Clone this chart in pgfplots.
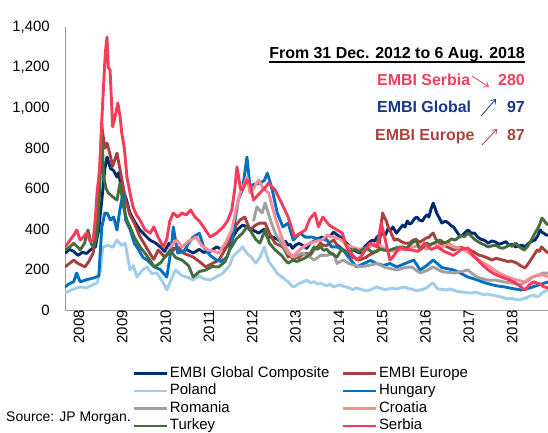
\documentclass[border=0pt]{standalone}
\usepackage{pgfplots}
\pgfplotsset{compat=1.18}
\usepackage{fontspec}
\setmainfont{Liberation Sans}
\usetikzlibrary{arrows.meta}
\definecolor{cNavy}{RGB}{0,42,112}
\definecolor{cBrown}{RGB}{168,64,60}
\definecolor{cPoland}{RGB}{160,205,235}
\definecolor{cHungary}{RGB}{0,112,192}
\definecolor{cRomania}{RGB}{160,160,160}
\definecolor{cCroatia}{RGB}{250,140,150}
\definecolor{cTurkey}{RGB}{70,110,60}
\definecolor{cSerbia}{RGB}{245,60,90}
\definecolor{tNavy}{RGB}{25,55,135}
\definecolor{tBrown}{RGB}{168,68,64}
\definecolor{tSerbia}{RGB}{240,64,92}
\tikzset{ser/.style={line width=2.9bp, line join=round}}
\begin{document}
\begin{tikzpicture}[x=1bp,y=1bp]
\useasboundingbox (0,0) rectangle (548,433);
\clip (0,0) rectangle (548,433);
\begin{axis}[
  at={(65bp,123bp)}, anchor=south west,
  scale only axis, width=483bp, height=283bp,
  xmin=2008, xmax=2019.15, ymin=0, ymax=1400,
  axis x line*=bottom, axis y line*=left,
  axis line style={draw=black!40, line width=0.9bp},
  major tick length=0pt,
  xtick={2008,2009,...,2018},
  xticklabels={2008,2009,2010,2011,2012,2013,2014,2015,2016,2017,2018},
  ytick={0,200,...,1400},
  /pgf/number format/assume math mode=true,
  /pgf/number format/1000 sep={,},
  tick label style={font=\fontsize{15}{17}\selectfont, inner sep=0pt},
  xticklabel style={rotate=90, anchor=east, yshift=-14bp},
  yticklabel style={anchor=east, xshift=-15bp},
  legend columns=2,
  legend cell align=left,
  legend style={at={(0.139,-0.193)}, anchor=north west, draw=none, fill=none,
    inner sep=0pt, column sep=0pt, font=\fontsize{15}{17}\selectfont,
    nodes={inner xsep=2bp, inner ysep=1.5bp, text height=11bp, text depth=3.5bp}},
  legend image code/.code={\draw[#1,line width=2.6bp] (0bp,0bp) -- (33bp,0bp);},
]
\addplot[cNavy,ser] coordinates {(2008.0,280)(2008.1,300)(2008.2,290)(2008.3,270)(2008.4,285)(2008.5,280)(2008.6,300)(2008.7,312)(2008.78,400)(2008.85,544)(2008.92,700)(2008.97,757)(2009.05,700)(2009.12,690)(2009.2,658)(2009.24,680)(2009.3,600)(2009.4,560)(2009.5,480)(2009.6,440)(2009.73,396)(2009.85,370)(2009.96,346)(2010.1,330)(2010.2,312)(2010.3,290)(2010.4,330)(2010.5,300)(2010.6,310)(2010.7,285)(2010.8,300)(2010.96,282)(2011.1,300)(2011.2,285)(2011.35,290)(2011.5,312)(2011.6,300)(2011.74,312)(2011.85,350)(2011.97,396)(2012.1,420)(2012.2,411)(2012.3,400)(2012.47,380)(2012.6,400)(2012.67,360)(2012.8,361)(2012.9,350)(2013.03,330)(2013.09,340)(2013.15,320)(2013.2,325)(2013.25,305)(2013.33,322)(2013.4,330)(2013.5,318)(2013.58,305)(2013.66,330)(2013.75,340)(2013.84,352)(2013.93,361)(2014.0,350)(2014.05,370)(2014.12,365)(2014.2,385)(2014.28,372)(2014.35,361)(2014.43,345)(2014.5,330)(2014.58,315)(2014.65,300)(2014.72,290)(2014.8,282)(2014.88,305)(2014.95,320)(2015.02,335)(2015.1,346)(2015.15,340)(2015.2,361)(2015.28,370)(2015.35,380)(2015.4,372)(2015.45,400)(2015.51,392)(2015.57,411)(2015.61,395)(2015.65,380)(2015.72,400)(2015.8,420)(2015.85,410)(2015.9,440)(2015.95,425)(2016.0,430)(2016.06,450)(2016.12,460)(2016.18,445)(2016.25,440)(2016.3,458)(2016.35,470)(2016.4,460)(2016.45,500)(2016.5,529)(2016.54,505)(2016.58,480)(2016.64,455)(2016.7,430)(2016.78,440)(2016.85,430)(2016.91,418)(2016.97,410)(2017.05,385)(2017.12,363)(2017.2,375)(2017.3,396)(2017.38,380)(2017.45,381)(2017.52,362)(2017.6,350)(2017.68,345)(2017.77,331)(2017.86,342)(2017.95,335)(2018.02,325)(2018.1,331)(2018.18,338)(2018.25,320)(2018.32,325)(2018.4,312)(2018.48,318)(2018.55,320)(2018.62,312)(2018.7,330)(2018.78,340)(2018.85,346)(2018.92,370)(2018.97,396)(2019.01,385)(2019.05,380)(2019.1,372)(2019.15,370)};
\addlegendentry{EMBI Global Composite\rule{10bp}{0pt}}
\addplot[cBrown,ser] coordinates {(2008.0,213)(2008.1,230)(2008.2,247)(2008.3,230)(2008.46,213)(2008.55,240)(2008.65,282)(2008.75,445)(2008.85,906)(2008.92,800)(2008.97,826)(2009.05,760)(2009.1,710)(2009.2,776)(2009.3,660)(2009.4,544)(2009.5,470)(2009.6,430)(2009.73,363)(2009.85,320)(2009.96,280)(2010.05,250)(2010.15,297)(2010.3,262)(2010.45,290)(2010.6,312)(2010.75,280)(2010.96,262)(2011.1,240)(2011.25,213)(2011.4,230)(2011.55,247)(2011.7,300)(2011.8,346)(2011.95,420)(2012.04,445)(2012.15,460)(2012.27,396)(2012.4,420)(2012.5,430)(2012.62,430)(2012.72,380)(2012.85,330)(2013.03,312)(2013.09,290)(2013.15,262)(2013.21,270)(2013.27,247)(2013.33,258)(2013.4,260)(2013.49,275)(2013.58,280)(2013.66,270)(2013.75,300)(2013.82,310)(2013.9,331)(2013.97,318)(2014.05,320)(2014.12,335)(2014.2,346)(2014.27,325)(2014.35,312)(2014.42,295)(2014.5,280)(2014.58,270)(2014.65,260)(2014.72,255)(2014.8,247)(2014.88,255)(2014.95,260)(2015.02,272)(2015.1,280)(2015.18,290)(2015.25,300)(2015.3,420)(2015.33,480)(2015.38,455)(2015.42,440)(2015.46,410)(2015.5,396)(2015.55,370)(2015.6,346)(2015.68,350)(2015.75,340)(2015.85,330)(2015.96,331)(2016.03,345)(2016.1,350)(2016.18,335)(2016.27,346)(2016.33,355)(2016.4,360)(2016.45,372)(2016.5,381)(2016.55,355)(2016.6,340)(2016.68,328)(2016.75,320)(2016.85,310)(2016.97,297)(2017.06,305)(2017.15,310)(2017.25,300)(2017.35,297)(2017.45,285)(2017.55,272)(2017.62,268)(2017.7,262)(2017.78,255)(2017.85,247)(2017.95,256)(2018.05,250)(2018.14,245)(2018.22,240)(2018.3,242)(2018.4,235)(2018.48,225)(2018.55,215)(2018.62,208)(2018.68,225)(2018.75,247)(2018.82,270)(2018.9,297)(2018.95,290)(2019.0,312)(2019.08,295)(2019.15,282)};
\addlegendentry{EMBI Europe}
\addplot[cPoland,ser] coordinates {(2008.0,84)(2008.15,100)(2008.35,114)(2008.5,110)(2008.65,125)(2008.74,134)(2008.82,200)(2008.87,312)(2009.0,320)(2009.1,310)(2009.2,346)(2009.3,320)(2009.39,330)(2009.5,198)(2009.58,220)(2009.66,163)(2009.8,200)(2009.9,213)(2010.0,180)(2010.12,183)(2010.25,140)(2010.35,100)(2010.45,150)(2010.55,198)(2010.7,170)(2010.85,160)(2010.96,148)(2011.1,170)(2011.2,155)(2011.35,148)(2011.5,165)(2011.65,183)(2011.8,220)(2011.87,262)(2012.0,290)(2012.1,312)(2012.2,280)(2012.3,262)(2012.4,232)(2012.5,260)(2012.6,312)(2012.7,240)(2012.8,213)(2012.9,180)(2013.03,160)(2013.09,148)(2013.15,140)(2013.21,125)(2013.27,114)(2013.33,120)(2013.4,130)(2013.49,138)(2013.58,148)(2013.66,135)(2013.75,140)(2013.82,128)(2013.9,134)(2013.97,125)(2014.05,120)(2014.12,128)(2014.2,114)(2014.27,120)(2014.35,125)(2014.42,118)(2014.5,114)(2014.58,108)(2014.65,100)(2014.72,110)(2014.8,104)(2014.9,98)(2015.0,95)(2015.1,105)(2015.2,114)(2015.3,106)(2015.4,100)(2015.52,108)(2015.66,104)(2015.75,110)(2015.85,114)(2015.92,106)(2016.0,104)(2016.1,96)(2016.2,99)(2016.28,104)(2016.35,110)(2016.43,125)(2016.5,134)(2016.55,118)(2016.6,105)(2016.7,102)(2016.8,99)(2016.88,104)(2016.97,99)(2017.06,92)(2017.15,90)(2017.25,86)(2017.35,84)(2017.45,88)(2017.55,84)(2017.65,76)(2017.75,79)(2017.85,74)(2017.95,70)(2018.07,64)(2018.14,60)(2018.2,55)(2018.28,58)(2018.35,55)(2018.42,52)(2018.5,50)(2018.58,56)(2018.65,60)(2018.72,68)(2018.8,74)(2018.88,66)(2018.95,70)(2019.0,82)(2019.05,90)(2019.1,94)(2019.15,99)};
\addlegendentry{Poland}
\addplot[cHungary,ser] coordinates {(2008.0,114)(2008.1,130)(2008.2,140)(2008.27,183)(2008.35,139)(2008.5,150)(2008.65,158)(2008.78,168)(2008.85,411)(2008.92,480)(2008.97,480)(2009.05,445)(2009.12,460)(2009.2,396)(2009.27,500)(2009.34,579)(2009.4,445)(2009.5,400)(2009.6,330)(2009.66,312)(2009.8,260)(2009.9,247)(2010.06,213)(2010.2,200)(2010.35,163)(2010.45,300)(2010.5,411)(2010.6,282)(2010.75,290)(2010.85,330)(2010.96,361)(2011.1,380)(2011.2,312)(2011.35,270)(2011.5,247)(2011.6,240)(2011.74,262)(2011.85,330)(2011.9,411)(2012.0,544)(2012.1,600)(2012.2,757)(2012.27,609)(2012.35,620)(2012.5,628)(2012.6,640)(2012.67,677)(2012.75,620)(2012.8,579)(2012.9,480)(2013.03,411)(2013.15,430)(2013.27,346)(2013.43,380)(2013.55,360)(2013.7,361)(2013.85,350)(2014.05,346)(2014.15,312)(2014.28,312)(2014.42,297)(2014.55,260)(2014.73,213)(2014.9,230)(2015.05,245)(2015.2,230)(2015.35,220)(2015.5,230)(2015.66,213)(2015.85,230)(2016.05,247)(2016.2,198)(2016.35,220)(2016.5,247)(2016.7,210)(2016.97,198)(2017.15,180)(2017.3,163)(2017.5,150)(2017.7,134)(2017.95,120)(2018.15,114)(2018.35,105)(2018.53,99)(2018.65,104)(2018.8,114)(2018.95,125)(2019.15,139)};
\addlegendentry{Hungary}
\addplot[cRomania,ser] coordinates {(2012.35,440)(2012.43,510)(2012.55,480)(2012.62,529)(2012.72,460)(2012.85,380)(2013.0,331)(2013.15,280)(2013.3,262)(2013.45,280)(2013.6,270)(2013.75,247)(2013.9,270)(2014.05,270)(2014.2,280)(2014.28,230)(2014.42,247)(2014.55,230)(2014.8,213)(2015.0,220)(2015.2,230)(2015.4,210)(2015.66,198)(2015.85,210)(2016.0,213)(2016.2,183)(2016.35,195)(2016.5,213)(2016.7,190)(2016.97,183)(2017.15,190)(2017.3,198)(2017.5,163)(2017.75,148)(2017.95,148)(2018.1,140)(2018.3,134)(2018.5,124)(2018.65,140)(2018.8,163)(2018.95,175)(2019.04,183)(2019.15,183)};
\addlegendentry{Romania}
\addplot[cCroatia,ser] coordinates {(2010.4,300)(2010.5,330)(2010.58,346)(2010.7,312)(2010.85,340)(2011.03,361)(2011.15,320)(2011.3,297)(2011.45,290)(2011.55,282)(2011.7,330)(2011.85,396)(2011.95,500)(2012.04,579)(2012.15,628)(2012.2,658)(2012.27,579)(2012.35,600)(2012.47,643)(2012.58,600)(2012.7,579)(2012.85,460)(2013.0,361)(2013.12,300)(2013.25,262)(2013.38,290)(2013.5,312)(2013.65,330)(2013.8,340)(2013.93,346)(2014.05,370)(2014.2,361)(2014.35,350)(2014.5,320)(2014.65,310)(2014.8,300)(2015.0,310)(2015.2,330)(2015.4,300)(2015.6,290)(2015.8,300)(2016.0,310)(2016.2,320)(2016.35,300)(2016.5,330)(2016.7,310)(2016.85,331)(2017.0,310)(2017.2,300)(2017.4,270)(2017.6,240)(2017.8,215)(2018.0,185)(2018.2,165)(2018.4,150)(2018.6,140)(2018.8,165)(2019.0,175)(2019.15,165)};
\addlegendentry{Croatia}
\addplot[cTurkey,ser] coordinates {(2008.0,297)(2008.1,310)(2008.2,330)(2008.3,310)(2008.35,297)(2008.45,330)(2008.53,396)(2008.6,330)(2008.65,312)(2008.72,350)(2008.77,445)(2008.82,700)(2008.85,920)(2008.89,658)(2008.95,600)(2009.0,579)(2009.1,560)(2009.2,544)(2009.27,628)(2009.35,510)(2009.42,450)(2009.5,411)(2009.6,360)(2009.73,312)(2009.85,280)(2009.96,247)(2010.06,213)(2010.2,232)(2010.3,260)(2010.43,297)(2010.55,260)(2010.7,247)(2010.85,220)(2010.96,163)(2011.1,190)(2011.25,198)(2011.4,215)(2011.55,213)(2011.7,240)(2011.8,297)(2011.95,350)(2012.1,381)(2012.2,411)(2012.27,396)(2012.4,350)(2012.5,331)(2012.62,396)(2012.72,330)(2012.85,297)(2013.0,270)(2013.07,250)(2013.15,232)(2013.25,245)(2013.35,240)(2013.47,250)(2013.58,262)(2013.66,280)(2013.75,312)(2013.82,300)(2013.9,312)(2013.97,295)(2014.05,300)(2014.1,285)(2014.15,280)(2014.22,270)(2014.28,262)(2014.34,285)(2014.4,300)(2014.5,290)(2014.58,282)(2014.64,295)(2014.7,300)(2014.78,288)(2014.85,297)(2014.92,305)(2015.0,300)(2015.1,285)(2015.2,290)(2015.28,302)(2015.35,297)(2015.45,292)(2015.55,300)(2015.68,310)(2015.8,312)(2015.88,305)(2015.95,320)(2016.03,335)(2016.1,346)(2016.15,320)(2016.2,297)(2016.28,315)(2016.35,331)(2016.42,322)(2016.5,330)(2016.58,338)(2016.66,346)(2016.75,332)(2016.85,340)(2016.92,352)(2017.0,346)(2017.08,358)(2017.15,370)(2017.22,362)(2017.3,381)(2017.38,365)(2017.45,350)(2017.52,340)(2017.6,330)(2017.68,322)(2017.77,312)(2017.86,318)(2017.95,320)(2018.02,310)(2018.1,305)(2018.18,312)(2018.25,320)(2018.32,315)(2018.4,331)(2018.5,310)(2018.6,297)(2018.68,315)(2018.75,340)(2018.8,360)(2018.85,381)(2018.92,405)(2018.97,430)(2019.01,455)(2019.05,445)(2019.1,430)(2019.15,420)};
\addlegendentry{Turkey}
\addplot[cSerbia,ser] coordinates {(2008.0,312)(2008.1,340)(2008.2,370)(2008.27,396)(2008.35,346)(2008.42,360)(2008.5,380)(2008.58,340)(2008.65,346)(2008.7,450)(2008.74,579)(2008.8,700)(2008.85,940)(2008.9,1150)(2008.93,1271)(2008.97,1350)(2009.0,1200)(2009.04,1188)(2009.1,906)(2009.15,950)(2009.22,1024)(2009.27,960)(2009.31,876)(2009.37,800)(2009.43,658)(2009.5,580)(2009.57,510)(2009.65,470)(2009.73,445)(2009.85,396)(2009.97,380)(2010.05,411)(2010.15,360)(2010.27,312)(2010.35,350)(2010.42,440)(2010.5,480)(2010.6,460)(2010.7,480)(2010.8,470)(2010.9,495)(2011.0,460)(2011.1,440)(2011.2,410)(2011.35,361)(2011.5,380)(2011.65,410)(2011.75,440)(2011.85,495)(2011.92,600)(2011.97,708)(2012.05,600)(2012.1,594)(2012.2,643)(2012.27,628)(2012.35,544)(2012.5,579)(2012.6,600)(2012.7,628)(2012.85,594)(2013.0,529)(2013.15,460)(2013.3,361)(2013.43,380)(2013.55,396)(2013.65,450)(2013.77,480)(2013.85,411)(2013.95,460)(2014.1,420)(2014.25,400)(2014.4,381)(2014.5,312)(2014.6,282)(2014.74,247)(2014.85,270)(2015.04,331)(2015.2,312)(2015.3,430)(2015.38,360)(2015.5,247)(2015.57,262)(2015.73,312)(2015.85,300)(2016.0,297)(2016.15,290)(2016.3,331)(2016.45,300)(2016.6,312)(2016.75,290)(2016.97,270)(2017.15,300)(2017.3,307)(2017.42,270)(2017.53,247)(2017.65,220)(2017.77,198)(2017.9,180)(2018.07,163)(2018.25,150)(2018.4,134)(2018.52,115)(2018.62,99)(2018.72,125)(2018.82,139)(2018.95,130)(2019.05,115)(2019.15,109)};
\addlegendentry{Serbia}
\end{axis}
% annotation
\node[anchor=base east, inner sep=0pt, font=\fontsize{16}{18}\selectfont\bfseries] (T) at (525,374) {From 31 Dec. 2012 to 6 Aug. 2018};
\draw[line width=1.1bp] ([yshift=-3bp]T.base west) -- ([yshift=-3bp]T.base east);
\node[anchor=base west, inner sep=0pt, text=tSerbia, font=\fontsize{16}{18}\selectfont\bfseries] at (377,347) {EMBI Serbia};
\node[anchor=base east, inner sep=0pt, text=tSerbia, font=\fontsize{16}{18}\selectfont\bfseries] at (525,347) {280};
\draw[tSerbia, line width=0.8bp, -{Straight Barb[length=4bp,width=6bp]}] (472,357) -- (489,346);
\node[anchor=base west, inner sep=0pt, text=tNavy, font=\fontsize{16}{18}\selectfont\bfseries] at (377,320) {EMBI Global};
\node[anchor=base east, inner sep=0pt, text=tNavy, font=\fontsize{16}{18}\selectfont\bfseries] at (525,320) {97};
\draw[tNavy, line width=0.8bp, -{Straight Barb[length=4bp,width=6bp]}] (481,317) -- (496,334);
\node[anchor=base west, inner sep=0pt, text=tBrown, font=\fontsize{16}{18}\selectfont\bfseries] at (375,292) {EMBI Europe};
\node[anchor=base east, inner sep=0pt, text=tBrown, font=\fontsize{16}{18}\selectfont\bfseries] at (525,292) {87};
\draw[tBrown, line width=0.8bp, -{Straight Barb[length=4bp,width=6bp]}] (482,288) -- (497,304);
\node[anchor=west, inner sep=0pt, font=\fontsize{14}{16}\selectfont] at (6,15) {Source: JP Morgan.};
\end{tikzpicture}
\end{document}
